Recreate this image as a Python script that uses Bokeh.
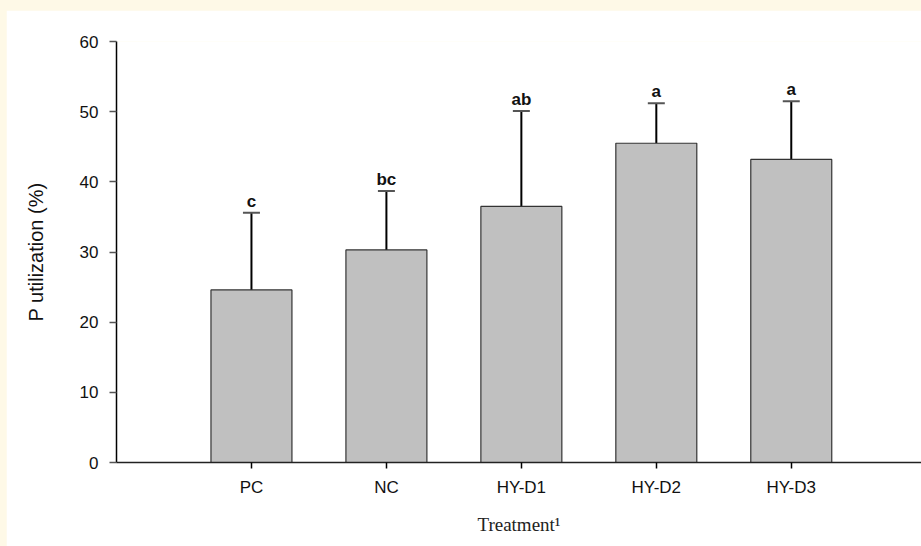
from bokeh.plotting import figure
from bokeh.models import ColumnDataSource, Whisker, TeeHead, FixedTicker, Range1d
from bokeh.embed import file_html
from bokeh.resources import INLINE

categories = ["PC", "NC", "HY-D1", "HY-D2", "HY-D3"]
means = [24.6, 30.3, 36.5, 45.5, 43.2]
errors = [11.0, 8.4, 13.6, 5.7, 8.3]
letters = ["c", "bc", "ab", "a", "a"]
y_ticks = [0, 10, 20, 30, 40, 50, 60]

xs = list(range(len(categories)))
upper = [m + e for m, e in zip(means, errors)]
src = ColumnDataSource(dict(x=xs, top=means, upper=upper, letters=letters))

p = figure(width=915, height=536, output_backend="svg", toolbar_location=None,
           x_range=Range1d(-1.0, 4.965), y_range=Range1d(0, 60),
           min_border_top=31, min_border_left=110, min_border_right=0, min_border_bottom=84)
p.outline_line_color = None
p.background_fill_color = "white"
p.border_fill_color = "white"
p.xgrid.grid_line_color = None
p.ygrid.grid_line_color = None

p.vbar(x="x", top="top", width=0.6, bottom=0, source=src,
       fill_color="#c0c0c0", line_color="#333333", line_width=1.2)

w = Whisker(base="x", lower="top", upper="upper", source=src,
            line_color="black", line_width=2,
            upper_head=TeeHead(size=17, line_color="#555555", line_width=2),
            lower_head=None)
p.add_layout(w)

p.text(x="x", y="upper", text="letters", source=src, text_align="center",
       text_baseline="bottom", y_offset=-2, text_font_size="17px",
       text_font_style="bold", text_color="#111111")

# axes
p.yaxis.ticker = FixedTicker(ticks=y_ticks)
p.yaxis.minor_tick_line_color = None
p.yaxis.major_tick_out = 7
p.yaxis.major_tick_in = 0
p.yaxis.major_tick_line_color = "#555555"
p.yaxis.major_tick_line_width = 1.5
p.yaxis.axis_line_color = "black"
p.yaxis.axis_line_width = 1.5
p.yaxis.major_label_text_font = "Liberation Sans"
p.yaxis.major_label_text_font_size = "17px"
p.yaxis.major_label_text_color = "#111111"
p.yaxis.major_label_standoff = 11
p.yaxis.axis_label = "P utilization (%)"
p.yaxis.axis_label_text_font = "Liberation Sans"
p.yaxis.axis_label_text_font_size = "20px"
p.yaxis.axis_label_text_font_style = "normal"
p.yaxis.axis_label_text_color = "#111111"
p.yaxis.axis_label_standoff = 30

p.xaxis.ticker = FixedTicker(ticks=xs)
p.xaxis.major_label_overrides = {i: c for i, c in zip(xs, categories)}
p.xaxis.minor_tick_line_color = None
p.xaxis.major_tick_out = 6
p.xaxis.major_tick_in = 0
p.xaxis.major_tick_line_color = "black"
p.xaxis.major_tick_line_width = 1.5
p.xaxis.axis_line_color = "#222222"
p.xaxis.axis_line_width = 1.5
p.xaxis.major_label_text_font = "Liberation Sans"
p.xaxis.major_label_text_font_size = "17px"
p.xaxis.major_label_text_color = "#111111"
p.xaxis.major_label_standoff = 9
p.xaxis.axis_label = "Treatment\u00b9"
p.xaxis.axis_label_text_font = "Liberation Serif"
p.xaxis.axis_label_text_font_size = "19px"
p.xaxis.axis_label_text_font_style = "normal"
p.xaxis.axis_label_text_color = "#222222"
p.xaxis.axis_label_standoff = 14

html = file_html(p, INLINE)
style = ("<style>html, body {background-color:#fef9e7 !important;} "
         "body {padding: 10px 0 0 6px !important;}</style></head>")
html = html.replace("</head>", style, 1)
open("out.html", "w").write(html)
